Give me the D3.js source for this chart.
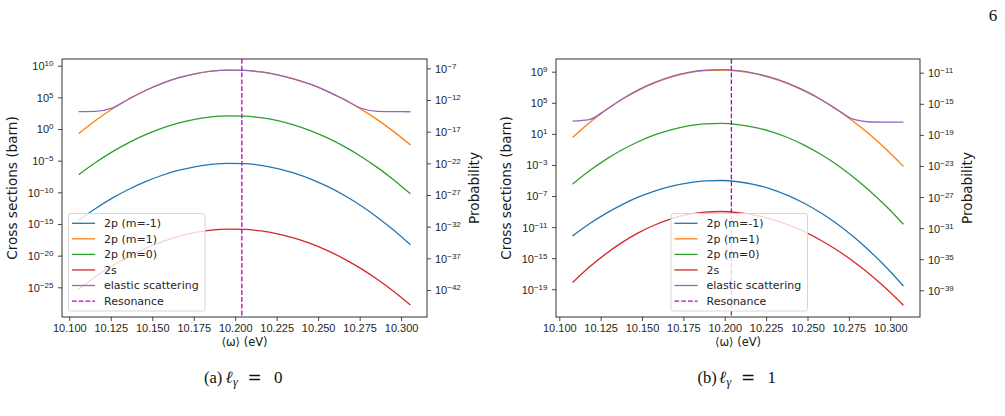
<!DOCTYPE html>
<html>
<head>
<meta charset="utf-8">
<script src="https://cdn.jsdelivr.net/npm/d3@7"></script>
<style>
  body { margin: 0; background: #fff; }
  svg { display: block; font-family: "DejaVu Sans", sans-serif; }
</style>
</head>
<body>
<svg id="fig" width="1005" height="416"></svg>
<script>
// photon energy samples (eV) for each panel
const energyA = [10.1056, 10.1156, 10.1256, 10.1356, 10.1456, 10.1556, 10.1656, 10.1756, 10.1856, 10.1956, 10.2056,
  10.2156, 10.2256, 10.2356, 10.2456, 10.2556, 10.2656, 10.2756, 10.2856, 10.2956, 10.3056];
const energyB = [10.108, 10.118, 10.128, 10.138, 10.148, 10.158, 10.168, 10.178, 10.188, 10.198, 10.208,
  10.218, 10.228, 10.238, 10.248, 10.258, 10.268, 10.278, 10.288, 10.298, 10.308];

// log10 of cross section (barn), panel (a) l_gamma = 0
const p2mMinus1A = [-14.42, -12.60, -10.96, -9.55, -8.35, -7.34, -6.55, -5.97, -5.59, -5.43, -5.47,
  -5.74, -6.24, -6.96, -7.90, -9.07, -10.46, -12.08, -13.92, -15.99, -18.28];
const p2mPlus1A = [-0.74, 1.30, 3.13, 4.70, 6.05, 7.17, 8.06, 8.70, 9.13, 9.31, 9.27,
  9.02, 8.56, 7.90, 7.04, 5.96, 4.67, 3.19, 1.49, -0.41, -2.53];
const p2m0A = [-7.22, -5.33, -3.64, -2.18, -0.93, 0.11, 0.93, 1.53, 1.92, 2.09, 2.05,
  1.79, 1.31, 0.62, -0.28, -1.40, -2.74, -4.29, -6.06, -8.04, -10.24];
const s2A = [-25.28, -23.36, -21.64, -20.15, -18.88, -17.82, -16.99, -16.38, -15.98, -15.81, -15.85,
  -16.10, -16.57, -17.24, -18.11, -19.20, -20.50, -22.01, -23.73, -25.66, -27.80];
const elasticA = [2.76, 2.79, 3.30, 4.71, 6.05, 7.17, 8.06, 8.70, 9.13, 9.31, 9.27,
  9.02, 8.56, 7.90, 7.04, 5.96, 4.68, 3.32, 2.79, 2.75, 2.73];

// log10 of cross section (barn), panel (b) l_gamma = 1
const p2mMinus1B = [-12.13, -10.60, -9.26, -8.10, -7.12, -6.33, -5.72, -5.30, -5.06, -5.00, -5.16,
  -5.52, -6.11, -6.91, -7.93, -9.16, -10.61, -12.28, -14.16, -16.26, -18.58];
const p2mPlus1B = [0.54, 2.40, 4.04, 5.45, 6.64, 7.60, 8.34, 8.86, 9.15, 9.22, 9.08,
  8.74, 8.21, 7.48, 6.54, 5.42, 4.09, 2.57, 0.85, -1.07, -3.19];
const p2m0B = [-5.47, -3.79, -2.32, -1.05, 0.02, 0.89, 1.56, 2.02, 2.29, 2.35, 2.20,
  1.85, 1.29, 0.53, -0.45, -1.63, -3.01, -4.61, -6.41, -8.42, -10.63];
const s2B = [-18.14, -16.18, -14.45, -12.96, -11.71, -10.70, -9.92, -9.37, -9.07, -8.99, -9.13,
  -9.46, -9.97, -10.69, -11.59, -12.69, -13.98, -15.46, -17.13, -19.00, -21.06];
const elasticB = [2.64, 2.83, 4.08, 5.49, 6.69, 7.65, 8.39, 8.91, 9.20, 9.27, 9.13,
  8.79, 8.26, 7.53, 6.59, 5.46, 4.11, 2.85, 2.53, 2.52, 2.52];

const seriesLabels = ['2p (m=-1)', '2p (m=1)', '2p (m=0)', '2s', 'elastic scattering'];
const seriesColors = ['#1f77b4', '#ff7f0e', '#2ca02c', '#d62728', '#9467bd'];
const resonanceLabel = 'Resonance';
const resonance = 10.204;

const energyTicks = [10.100, 10.125, 10.150, 10.175, 10.200, 10.225, 10.250, 10.275, 10.300];
const csTicksA = [10, 5, 0, -5, -10, -15, -20, -25];
const probTicksA = [-7, -12, -17, -22, -27, -32, -37, -42];
const csTicksB = [9, 5, 1, -3, -7, -11, -15, -19];
const probTicksB = [-11, -15, -19, -23, -27, -31, -35, -39];

const svg = d3.select('#fig');
const pow10 = (e) => Math.pow(10, e);
const minus = (s) => s.replace('-', '\u2212');

const powerLabels = (g) => {
  g.selectAll('.tick text').each(function (d) {
    const exp = Math.round(Math.log10(d));
    const label = d3.select(this);
    label.text(null);
    label.append('tspan').text('10');
    label.append('tspan')
      .attr('dy', '-0.5em')
      .attr('font-size', '8px')
      .text(minus(String(exp)));
  });
};

const styleAxis = (g) => {
  g.select('.domain').remove();
  g.selectAll('.tick line').attr('stroke', '#333').attr('stroke-width', 0.9);
  g.selectAll('.tick text').attr('fill', '#262626').attr('font-size', '11px');
};

const drawPanel = ({
  left, right, top, bottom, xDomain, yDomain, probOffset, energy, series,
  csTicks, probTicks, legendX, caption, captionX,
}) => {
  const x = d3.scaleLinear().domain(xDomain).range([left, right]);
  const y = d3.scaleLog().domain(yDomain.map(pow10)).range([bottom, top]);
  const yProb = d3.scaleLog()
    .domain(yDomain.map((e) => pow10(e + probOffset)))
    .range([bottom, top]);

  const gx = svg.append('g')
    .attr('transform', `translate(0,${bottom})`)
    .call(d3.axisBottom(x).tickValues(energyTicks).tickFormat(d3.format('.3f')).tickSize(4));
  styleAxis(gx);
  gx.selectAll('.tick text').attr('y', 15).attr('dy', 0);

  const gy = svg.append('g')
    .attr('transform', `translate(${left},0)`)
    .call(d3.axisLeft(y).tickValues(csTicks.map(pow10)).tickSize(4));
  styleAxis(gy);
  gy.selectAll('.tick text').attr('x', -8.5).attr('dy', '0.36em');
  powerLabels(gy);

  const gp = svg.append('g')
    .attr('transform', `translate(${right},0)`)
    .call(d3.axisRight(yProb).tickValues(probTicks.map(pow10)).tickSize(4));
  styleAxis(gp);
  gp.selectAll('.tick text').attr('x', 8).attr('dy', '0.36em');
  powerLabels(gp);

  const line = d3.line()
    .x((d) => x(d.e))
    .y((d) => y(pow10(d.v)))
    .curve(d3.curveMonotoneX);

  series.forEach((values, i) => {
    svg.append('path')
      .datum(values.map((v, j) => ({ e: energy[j], v })))
      .attr('fill', 'none')
      .attr('stroke', seriesColors[i])
      .attr('stroke-width', 1.3)
      .attr('d', line);
  });

  svg.append('line')
    .attr('x1', x(resonance)).attr('x2', x(resonance))
    .attr('y1', top).attr('y2', bottom)
    .attr('stroke', '#bf00bf')
    .attr('stroke-width', 1.3)
    .attr('stroke-dasharray', '4.8,2');

  svg.append('rect')
    .attr('x', left).attr('y', top)
    .attr('width', right - left).attr('height', bottom - top)
    .attr('fill', 'none')
    .attr('stroke', '#333')
    .attr('stroke-width', 1);

  // legend
  const lg = svg.append('g').attr('transform', `translate(${legendX},213.5)`);
  lg.append('rect')
    .attr('width', 136.5).attr('height', 97.5)
    .attr('rx', 2.5)
    .attr('fill', '#fff').attr('fill-opacity', 0.8)
    .attr('stroke', '#d6d6d6').attr('stroke-width', 1);
  const entries = seriesLabels.map((label, i) => ({ label, color: seriesColors[i], dash: null }))
    .concat([{ label: resonanceLabel, color: '#bf00bf', dash: '4.8,2' }]);
  const item = lg.selectAll('g.item')
    .data(entries)
    .join('g')
    .attr('class', 'item')
    .attr('transform', (d, i) => `translate(0,${9.8 + i * 15.55})`);
  item.append('line')
    .attr('x1', 3.4).attr('x2', 26.6)
    .attr('stroke', (d) => d.color)
    .attr('stroke-width', 1.3)
    .attr('stroke-dasharray', (d) => d.dash);
  item.append('text')
    .attr('x', 35.5)
    .attr('dy', '0.36em')
    .attr('font-size', '11px')
    .attr('fill', '#262626')
    .text((d) => d.label);

  // axis titles
  const midY = (top + bottom) / 2;
  svg.append('text')
    .attr('transform', `translate(${left - 45},${midY}) rotate(-90)`)
    .attr('text-anchor', 'middle')
    .attr('font-size', '13.6px')
    .attr('fill', '#1a1a1a')
    .text('Cross sections (barn)');
  svg.append('text')
    .attr('transform', `translate(${right + 51.5},${midY}) rotate(-90)`)
    .attr('text-anchor', 'middle')
    .attr('font-size', '13.6px')
    .attr('fill', '#1a1a1a')
    .text('Probability');
  svg.append('text')
    .attr('x', (left + right) / 2)
    .attr('y', 346)
    .attr('text-anchor', 'middle')
    .attr('font-size', '11.5px')
    .attr('fill', '#1a1a1a')
    .text('\u27e8\u03c9\u27e9 (eV)');

  // subfigure caption, laid out like the LaTeX one: (a)  l_gamma  =  0
  const x0 = captionX - 40;
  const cap = svg.append('text')
    .attr('y', 383)
    .attr('font-family', '"Liberation Serif", serif')
    .attr('font-size', '17px')
    .attr('fill', '#111');
  cap.append('tspan').attr('x', x0).attr('font-size', '16.5px').text(`(${caption[0]})`);
  cap.append('tspan').attr('x', x0 + 21.5).attr('font-style', 'italic').text('\u2113');
  cap.append('tspan').attr('x', x0 + 29).attr('font-style', 'italic')
    .attr('font-size', '12px').attr('dy', 3).text('\u03b3');
  cap.append('tspan').attr('x', x0 + 43.5).attr('dy', -3)
    .attr('font-family', '"DejaVu Sans", sans-serif')
    .attr('font-size', '17px').text('=');
  cap.append('tspan').attr('x', x0 + 70).text(caption[1]);
};

drawPanel({
  left: 62, right: 427, top: 59, bottom: 317,
  xDomain: [10.0956, 10.3156],
  yDomain: [-29.69, 11.06],
  probOffset: -16.58,
  energy: energyA,
  series: [p2mMinus1A, p2mPlus1A, p2m0A, s2A, elasticA],
  csTicks: csTicksA,
  probTicks: probTicksA,
  legendX: 68.5,
  caption: ['a', '0'],
  captionX: 244,
});

drawPanel({
  left: 556, right: 920, top: 59, bottom: 317,
  xDomain: [10.098, 10.318],
  yDomain: [-22.57, 10.636],
  probOffset: -19.87,
  energy: energyB,
  series: [p2mMinus1B, p2mPlus1B, p2m0B, s2B, elasticB],
  csTicks: csTicksB,
  probTicks: probTicksB,
  legendX: 671,
  caption: ['b', '1'],
  captionX: 737.5,
});

// page number
svg.append('text')
  .attr('x', 993).attr('y', 21)
  .attr('text-anchor', 'middle')
  .attr('font-family', '"Liberation Serif", serif')
  .attr('font-size', '17px')
  .attr('fill', '#111')
  .text('6');
</script>
</body>
</html>
